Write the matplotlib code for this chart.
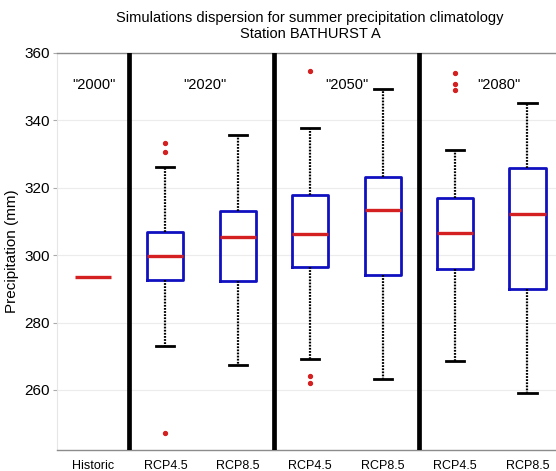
import matplotlib
matplotlib.use("Agg")
import matplotlib.pyplot as plt

plt.rcParams['font.family'] = ['Liberation Sans', 'DejaVu Sans']

# Scenario labels along the x axis
categories = ["Historic", "RCP4.5", "RCP8.5", "RCP4.5", "RCP8.5", "RCP4.5", "RCP8.5"]

# Historic climatology (single value)
historic_value = 293.5

# Box statistics for each future scenario (mm)
q1 = [292.6, 292.3, 296.4, 294.1, 295.8, 290.0]
medians = [299.7, 305.4, 306.2, 313.4, 306.5, 312.1]
q3 = [306.9, 313.2, 317.8, 323.1, 317.0, 325.9]
whisker_low = [273.1, 267.4, 269.2, 263.3, 268.6, 259.2]
whisker_high = [326.0, 335.7, 337.8, 349.1, 331.2, 345.0]
outliers = [
    [333.1, 330.6, 247.3],
    [],
    [354.7, 264.2, 262.0],
    [],
    [354.1, 350.6, 348.9],
    [],
]

# Horizon labels and their positions
horizons = ['"2000"', '"2020"', '"2050"', '"2080"']
horizon_x = [1.02, 2.55, 4.5, 6.6]
horizon_y = 350.4
separators = [1.5, 3.5, 5.5]

W, H = 556, 471
fig = plt.figure(figsize=(W / 100, H / 100), dpi=100)
left_px, right_px, top_px, bottom_px = 56.7, 563.7, 52.7, 450.0
ax = fig.add_axes([left_px / W, 1 - bottom_px / H,
                   (right_px - left_px) / W, (bottom_px - top_px) / H])

stats = []
for i in range(len(medians)):
    stats.append(dict(med=medians[i], q1=q1[i], q3=q3[i],
                      whislo=whisker_low[i], whishi=whisker_high[i],
                      fliers=outliers[i]))

positions = list(range(2, 2 + len(medians)))
ax.bxp(stats, positions=positions, widths=0.5, showfliers=True,
       boxprops=dict(color="#1010c0", linewidth=2.0),
       medianprops=dict(color="#d42020", linewidth=2.4),
       whiskerprops=dict(color="black", linewidth=1.6, linestyle=(0, (0.8, 0.6))),
       capprops=dict(color="black", linewidth=2.0),
       capwidths=0.25,
       flierprops=dict(marker="o", markersize=2.8, markerfacecolor="#d42020",
                       markeredgecolor="#d42020", linestyle="none"),
       zorder=3)

# Historic value drawn as a single median line
ax.hlines(historic_value, 1 - 0.25, 1 + 0.25, color="#d42020", linewidth=2.4, zorder=3)

for s in separators:
    ax.axvline(s, color="black", linewidth=3.4, zorder=4)

for label, x in zip(horizons, horizon_x):
    ax.text(x, horizon_y, label, ha="center", va="center", fontsize=10.5, zorder=5)

ax.set_xlim(0.5, 7.5)
ax.set_ylim(242.2, 360)
ax.set_xticks(range(1, len(categories) + 1))
ax.set_xticklabels(categories, fontsize=9)
ax.set_yticks([260, 280, 300, 320, 340, 360])
ax.tick_params(axis="y", labelsize=11, length=3, color="#aaaaaa", pad=2)
ax.tick_params(axis="x", length=0, pad=7)
ax.yaxis.grid(True, color="#ececec", linewidth=0.8)
ax.set_axisbelow(True)

for side in ["top", "bottom"]:
    ax.spines[side].set_color("#8c8c8c")
    ax.spines[side].set_linewidth(1.0)
ax.spines["left"].set_color("#e6e6e6")
ax.spines["right"].set_visible(False)

ax.set_ylabel("Precipitation (mm)", fontsize=11, labelpad=4)
fig.text(310 / W, 1 - 26 / H,
         "Simulations dispersion for summer precipitation climatology\nStation BATHURST A",
         ha="center", va="center", fontsize=10.5, linespacing=1.25)

fig.savefig("out.png", dpi=100)
